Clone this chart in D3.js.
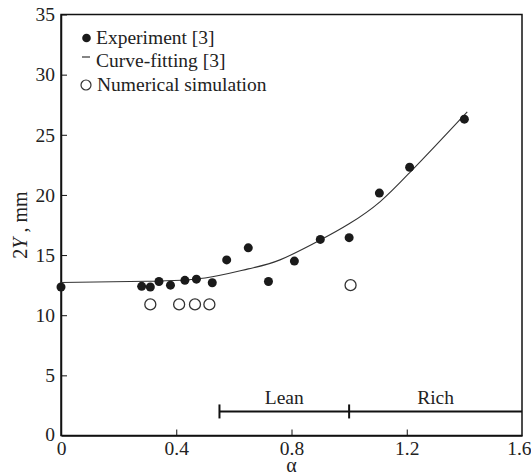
<!DOCTYPE html>
<html>
<head>
<meta charset="utf-8">
<script src="https://cdn.jsdelivr.net/npm/d3@7"></script>
<style>
  html, body { margin: 0; padding: 0; background: #fff; }
  svg { display: block; }
  svg text { font-family: "Liberation Serif", "Times New Roman", serif !important; }
</style>
</head>
<body>
<svg id="chart" width="531" height="475"></svg>
<script>
// ---- data ----
const experimentAlpha = [0.00, 0.28, 0.31, 0.34, 0.38, 0.43, 0.47, 0.525, 0.575, 0.65, 0.72, 0.81, 0.90, 1.00, 1.105, 1.21, 1.40];
const experimentY     = [12.35, 12.4, 12.35, 12.8, 12.5, 12.9, 13.0, 12.7, 14.6, 15.6, 12.8, 14.5, 16.3, 16.45, 20.15, 22.3, 26.3];

const curveAlpha = [0.00, 0.30, 0.50, 0.65, 0.76, 0.90, 1.00, 1.108, 1.212, 1.30, 1.41];
const curveY     = [12.72, 12.82, 13.1, 13.85, 14.6, 16.25, 17.6, 19.45, 21.9, 24.1, 26.9];

const simAlpha = [0.31, 0.41, 0.465, 0.515, 1.005];
const simY     = [10.9, 10.9, 10.9, 10.9, 12.5];

const xTicks = [0, 0.4, 0.8, 1.2, 1.6];
const xTickLabels = ["0", "0.4", "0.8", "1.2", "1.6"];
const yTicks = [0, 5, 10, 15, 20, 25, 30, 35];

const regimeNames = ["Lean", "Rich"];
const regimeStart = [0.55, 1.0];
const regimeEnd   = [1.0, 1.6];
const regimeLevel = 2;

const legendLabels = ["Experiment [3]", "Curve-fitting [3]", "Numerical simulation"];

// ---- layout ----
const svg = d3.select("#chart");
const mLeft = 61, mRight = 522, mTop = 14.5, mBottom = 435.5;
const x = d3.scaleLinear().domain([0, 1.6]).range([mLeft, mRight]);
const y = d3.scaleLinear().domain([0, 35]).range([mBottom, mTop]);
const FS = 19.5;

// frame
svg.append("rect")
  .attr("x", mLeft).attr("y", mTop)
  .attr("width", mRight - mLeft).attr("height", mBottom - mTop)
  .attr("fill", "none").attr("stroke", "#111").attr("stroke-width", 1.5);

// x axis (ticks pointing inside)
const xAxis = d3.axisBottom(x).tickValues(xTicks)
  .tickFormat((d, i) => xTickLabels[i]).tickSizeInner(-6).tickSizeOuter(0);
const gx = svg.append("g").attr("transform", `translate(0,${mBottom})`).call(xAxis);
gx.attr("font-family", null);
gx.select(".domain").attr("stroke", "#111").attr("stroke-width", 1.5);
gx.selectAll(".tick line").attr("stroke", "#111").attr("stroke-width", 1);
gx.selectAll(".tick text").attr("font-size", FS).attr("fill", "#222")
  .attr("y", 19.5).attr("dy", 0);
gx.selectAll(".tick").filter(d => d === 0).select("line").remove();
gx.selectAll(".tick").filter(d => d === 1.6).select("line").remove();
gx.selectAll(".tick").filter(d => d === 1.6).select("text")
  .attr("text-anchor", "end").attr("x", 9);

// y axis (ticks pointing inside)
const yAxis = d3.axisLeft(y).tickValues(yTicks)
  .tickFormat(d3.format("d")).tickSizeInner(-6).tickSizeOuter(0).tickPadding(6);
const gy = svg.append("g").attr("transform", `translate(${mLeft},0)`).call(yAxis);
gy.attr("font-family", null);
gy.select(".domain").attr("stroke", "#111").attr("stroke-width", 1.5);
gy.selectAll(".tick line").attr("stroke", "#111").attr("stroke-width", 1);
gy.selectAll(".tick text").attr("font-size", FS).attr("fill", "#222");
gy.selectAll(".tick").filter(d => d === 0).select("line").remove();
gy.selectAll(".tick").filter(d => d === 0).select("text").attr("dy", "0.26em");

// axis titles
svg.append("text")
  .attr("x", (mLeft + mRight) / 2).attr("y", 471.5)
  .attr("text-anchor", "middle").attr("font-size", 20).attr("fill", "#222")
  .text("α");

const yt = svg.append("text")
  .attr("transform", `translate(27,${(mTop + mBottom) / 2}) rotate(-90)`)
  .attr("text-anchor", "middle").attr("font-size", 20).attr("fill", "#222");
yt.append("tspan").text("2");
yt.append("tspan").attr("font-style", "italic").text("Y");
yt.append("tspan").text(" , mm");

// regime bars
const rg = svg.append("g");
regimeNames.forEach((name, i) => {
  const x0 = x(regimeStart[i]), x1 = x(regimeEnd[i]), yy = y(regimeLevel);
  rg.append("line").attr("x1", x0).attr("x2", x1).attr("y1", yy).attr("y2", yy)
    .attr("stroke", "#111").attr("stroke-width", 2);
  rg.append("line").attr("x1", x0).attr("x2", x0).attr("y1", yy - 7).attr("y2", yy + 7)
    .attr("stroke", "#111").attr("stroke-width", 2);
  rg.append("text").attr("x", (x0 + x1) / 2).attr("y", yy - 7)
    .attr("text-anchor", "middle").attr("font-size", FS).attr("fill", "#222").text(name);
});

// fitted curve
const curveData = curveAlpha.map((a, i) => [a, curveY[i]]);
svg.append("path").datum(curveData)
  .attr("d", d3.line().x(d => x(d[0])).y(d => y(d[1])).curve(d3.curveNatural))
  .attr("fill", "none").attr("stroke", "#333").attr("stroke-width", 1.1);

// experiment points
svg.append("g").selectAll("circle")
  .data(experimentAlpha.map((a, i) => [a, experimentY[i]]))
  .join("circle")
  .attr("cx", d => x(d[0])).attr("cy", d => y(d[1])).attr("r", 4.5)
  .attr("fill", "#1a1a1a");

// simulation points
svg.append("g").selectAll("circle")
  .data(simAlpha.map((a, i) => [a, simY[i]]))
  .join("circle")
  .attr("cx", d => x(d[0])).attr("cy", d => y(d[1])).attr("r", 5.5)
  .attr("fill", "#fff").attr("stroke", "#333").attr("stroke-width", 1.3);

// legend
const lg = svg.append("g");
const rowBase = [44, 67, 91];
lg.append("circle").attr("cx", 86.5).attr("cy", rowBase[0] - 6).attr("r", 4.3).attr("fill", "#1a1a1a");
lg.append("line").attr("x1", 82).attr("x2", 90).attr("y1", rowBase[1] - 10).attr("y2", rowBase[1] - 10)
  .attr("stroke", "#333").attr("stroke-width", 1.2);
lg.append("circle").attr("cx", 86).attr("cy", rowBase[2] - 6).attr("r", 5).attr("fill", "#fff")
  .attr("stroke", "#333").attr("stroke-width", 1.2);
legendLabels.forEach((t, i) => {
  lg.append("text").attr("x", i === 2 ? 97 : 96).attr("y", rowBase[i])
    .attr("font-size", FS).attr("fill", "#222").text(t);
});
</script>
</body>
</html>
